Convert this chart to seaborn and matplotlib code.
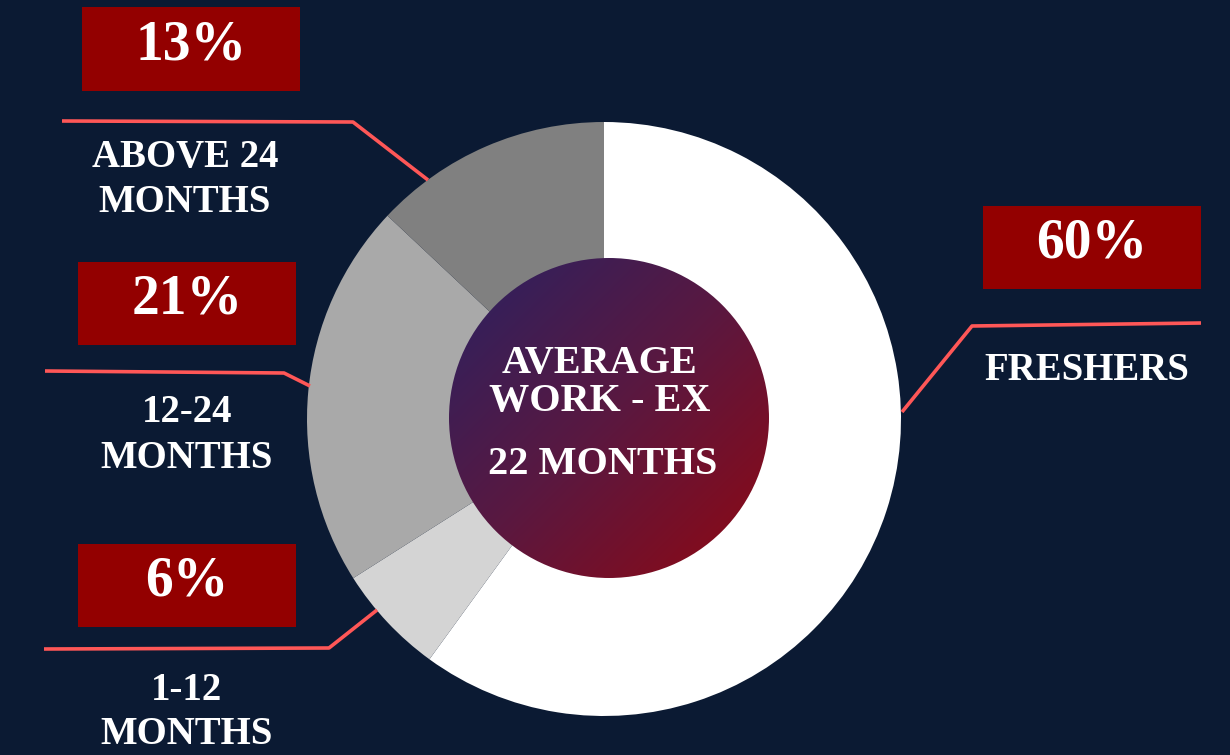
import numpy as np
import matplotlib
matplotlib.use('Agg')
import matplotlib.pyplot as plt
from matplotlib.colors import LinearSegmentedColormap
from matplotlib.patches import Circle, Rectangle
import seaborn as sns

# Data
categories = ['FRESHERS', '1-12\nMONTHS', '12-24\nMONTHS', 'ABOVE 24\nMONTHS']
shares = [60, 6, 21, 13]
slice_colors = ['#FFFFFF', '#D4D4D4', '#A9A9A9', '#808080']
center_title = ['AVERAGE', 'WORK - EX']
center_value = '22 MONTHS'

BG = '#0B1A33'
BOX = '#930000'
LINE = '#FF5757'
W, H = 1230, 755

sns.set_style('white')
plt.rcParams['font.family'] = ['Liberation Serif', 'DejaVu Serif']

fig = plt.figure(figsize=(W / 100, H / 100), dpi=100, facecolor=BG)
ax = fig.add_axes([0, 0, 1, 1])
ax.set_facecolor(BG)

def fy(y):
    # image pixel row -> data y (y up)
    return H - y

# Donut
cx, cy, r_out = 604, fy(419), 297
ax.pie(shares, colors=slice_colors, startangle=90, counterclock=False,
       center=(cx, cy), radius=r_out, wedgeprops={'linewidth': 0})

# Gradient centre disc
ix, iy, r_in = 609, fy(418), 160
gx = np.linspace(0, 1, 300)
gy = np.linspace(0, 1, 300)
GX, GY = np.meshgrid(gx, gy)
grad = (GX + (1 - GY)) / 2
cmap = LinearSegmentedColormap.from_list('ctr', ['#2A2262', '#5A1840', '#900812'])
im = ax.imshow(grad, cmap=cmap, origin='lower', aspect='auto',
               extent=(ix - r_in, ix + r_in, iy - r_in, iy + r_in), zorder=3)
clip = Circle((ix, iy), r_in, transform=ax.transData, facecolor='none', edgecolor='none')
ax.add_patch(clip)
im.set_clip_path(clip)

for txt, ty in zip(center_title, [364, 402]):
    ax.text(ix - 9, fy(ty), txt, ha='center', va='center', color='white',
            fontsize=29, fontweight='bold', zorder=4)
ax.text(ix - 6, fy(465), center_value, ha='center', va='center', color='white',
        fontsize=29, fontweight='bold', zorder=4)

# Label boxes, leader lines and texts (layout in image pixels)
layout = {
    'FRESHERS': dict(box=(983, 206, 218, 83), line=[(902, 412), (972, 326), (1201, 323)],
                     text=(1087, [370])),
    '1-12\nMONTHS': dict(box=(78, 544, 218, 83), line=[(377, 610), (329, 648), (44, 649)],
                         text=(187, [690, 735])),
    '12-24\nMONTHS': dict(box=(78, 262, 218, 83), line=[(310, 386), (284, 373), (45, 371)],
                          text=(187, [413, 458])),
    'ABOVE 24\nMONTHS': dict(box=(82, 7, 218, 84), line=[(428, 180), (353, 122), (62, 121)],
                             text=(185, [157, 203])),
}

for cat, val in zip(categories, shares):
    lay = layout[cat]
    bx, by, bw, bh = lay['box']
    ax.add_patch(Rectangle((bx, fy(by + bh)), bw, bh, facecolor=BOX, edgecolor='none', zorder=2))
    ax.text(bx + bw / 2, fy(by + bh / 2) + 4, f'{val}%', ha='center', va='center',
            color='white', fontsize=40, fontweight='bold', zorder=3)
    xs = [p[0] for p in lay['line']]
    ys = [fy(p[1]) for p in lay['line']]
    ax.plot(xs, ys, color=LINE, linewidth=2.6, solid_capstyle='butt', zorder=2)
    tx, rows = lay['text']
    for line_txt, ty in zip(cat.split('\n'), rows):
        ax.text(tx, fy(ty), line_txt, ha='center', va='center', color='white',
                fontsize=28, fontweight='bold', zorder=3)

ax.set_xlim(0, W)
ax.set_ylim(0, H)
ax.set_aspect('auto')
ax.axis('off')

fig.savefig('out.png', dpi=100, facecolor=BG)
